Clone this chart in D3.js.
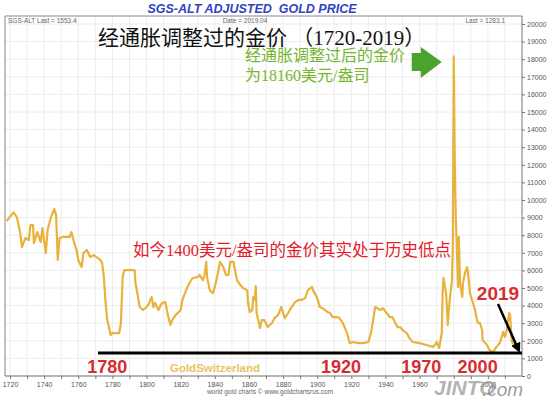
<!DOCTYPE html>
<html>
<head>
<meta charset="utf-8">
<script src="https://cdn.jsdelivr.net/npm/d3@7"></script>
<style>
  body { margin: 0; background: #fff; }
  svg { display: block; }
  text { white-space: pre; }
</style>
</head>
<body>
<div id="chart"></div>
<script>
// Data (inflation adjusted gold price, USD/oz)
const years = [1718,1722,1724,1726,1727,1729,1731,1732,1733.5,1734,1736,1738,1739,1741,1742,1744,1746,1747,1748,1749,
  1751,1755,1756,1757.5,1759,1760,1762,1763,1765,1767,1769,1771.5,1773,1774,1775,1776,1777,1779,1780,1784,
  1785,1786,1787,1793,1793.5,1794,1796,1798,1800,1801,1803,1804,1805,1807,1809,1811,1812.5,1814,1815,1817,
  1820,1821,1824,1825.5,1827,1830,1831,1833,1834,1835,1835.5,1837,1839,1841,1843,1845,1846.5,1848,1849,1851,
  1851.5,1853,1855,1856.5,1859,1859.5,1860.5,1862,1862.5,1863.5,1864,1864.5,1866.5,1867.5,1869,1871,1873.5,1875,1877,1879,
  1881,1883,1885,1887,1889,1891,1893,1894.5,1897,1897.5,1900,1901.5,1903,1906,1907.5,1909,1911.5,1913,1915,1917.5,
  1919,1921,1924,1927,1930,1931.5,1934,1937,1938.5,1942.5,1944,1947,1948.5,1950,1952.5,1954,1956,1960,1964,1968,
  1970,1971.5,1973,1973.5,1974,1975.5,1976,1976.5,1977.8,1979,1979.5,1980,1980.6,1981.2,1981.8,1982.5,1983,1983.7,1985,1985.4,
  1986.6,1987.8,1988.4,1989.5,1990.7,1991.3,1992.5,1993.6,1994.2,1995.4,1996.6,1997,1999.5,2001,2003,2005,2007,2009,2010,2011,
  2012.5,2013,2014,2014.5,2017,2019];
const prices = [8800,9300,9030,8120,7330,7840,7720,8580,8580,7550,8180,7610,8400,6990,8290,9030,9490,9140,6590,7840,
  7900,7900,8180,7610,7160,6590,6190,6990,7160,6760,6870,6700,6590,6420,5620,4150,3180,2330,2440,2440,
  3010,5620,6020,6020,5280,5060,3920,3750,3920,4030,4490,3920,4150,3750,4150,4200,3460,2900,3180,3460,
  3750,4320,5060,5340,5570,5620,5740,5450,5740,6480,5620,4880,4710,5450,6480,6190,5740,5740,6480,6480,
  6190,5450,5170,5000,4880,4150,3640,3750,4490,4320,5110,3580,2730,3180,3180,2780,3010,3290,3460,3920,
  3290,3580,3920,4200,4320,4320,4430,4880,5060,4880,4430,3920,3860,3640,3580,3350,3350,3290,3010,2440,
  1870,1930,1870,1870,1930,2440,3920,3750,3860,3350,3350,2780,2780,2610,2440,2160,1930,1870,1760,1650,
  1930,1590,2440,4710,5570,4710,3920,2900,4490,5450,7720,18160,12270,9030,7330,5060,7900,5280,4490,5280,
  5850,6190,5850,4710,4320,4150,3750,3180,3010,3010,2610,2040,1760,1480,1360,1650,1870,2500,2220,2610,
  3580,3460,2040,1870,1650,1590];

const yTicks = d3.range(0, 20001, 1000);
const xTicks = d3.range(1720, 2011, 10);
const xLabels = [1720,1740,1760,1780,1800,1820,1840,1860,1880,1900,1920,1940,1960,2000];

const eraYears = ["1780", "1920", "1970", "2000"];
const eraYearPos = [1777, 1914, 1961, 1994];
const todayLevel = 1300;

const data = years.map((yr, i) => ({ year: yr, price: prices[i] }));

const svg = d3.select("#chart")
  .append("svg")
  .attr("width", 550)
  .attr("height", 399);

// Scales
const xScale = d3.scaleLinear().domain([1720, 2020]).range([10, 522]);
const yScale = d3.scaleLinear().domain([0, 20000]).range([376, 24]);

const plot = { left: 5, right: 522, top: 16, bottom: 376 };

// grid
svg.append("g")
  .selectAll("line")
  .data(xTicks)
  .join("line")
    .attr("x1", d => xScale(d)).attr("x2", d => xScale(d))
    .attr("y1", plot.top).attr("y2", plot.bottom)
    .attr("stroke", "#ececec");
svg.append("g")
  .selectAll("line")
  .data(yTicks)
  .join("line")
    .attr("x1", plot.left).attr("x2", plot.right)
    .attr("y1", d => yScale(d)).attr("y2", d => yScale(d))
    .attr("stroke", "#ececec");

// frame
svg.append("path")
  .attr("d", `M${plot.left},${plot.bottom}V${plot.top}H${plot.right}`)
  .attr("fill", "none")
  .attr("stroke", "#888");

// axes
const yAxis = svg.append("g")
  .attr("transform", `translate(${plot.right},0)`)
  .call(d3.axisRight(yScale).tickValues(yTicks).tickSize(3).tickPadding(2).tickFormat(d3.format("d")));
yAxis.select(".domain").attr("d", `M0,${plot.top}V${plot.bottom}`).attr("stroke", "#777");

const xAxis = svg.append("g")
  .attr("transform", `translate(0,${plot.bottom})`)
  .call(d3.axisBottom(xScale).tickValues(xTicks).tickSize(3).tickPadding(3)
    .tickFormat(d => xLabels.includes(d) ? d : ""));
xAxis.select(".domain").attr("d", `M${plot.left},0H${plot.right}`).attr("stroke", "#777");

svg.selectAll(".tick line").attr("stroke", "#777");
svg.selectAll(".tick text")
  .attr("font-family", "Liberation Sans, Arial")
  .attr("font-size", 7)
  .attr("fill", "#555");

// gold line
svg.append("clipPath").attr("id", "clip")
  .append("rect")
  .attr("x", plot.left).attr("y", plot.top)
  .attr("width", plot.right - plot.left).attr("height", plot.bottom - plot.top);

const line = d3.line()
  .x(d => xScale(d.year))
  .y(d => yScale(d.price));

svg.append("path")
  .datum(data)
  .attr("clip-path", "url(#clip)")
  .attr("d", line)
  .attr("fill", "none")
  .attr("stroke", "#e9b23c")
  .attr("stroke-width", 2.2)
  .attr("stroke-linejoin", "round");

// header texts
svg.append("text")
  .attr("x", 252).attr("y", 13)
  .attr("text-anchor", "middle")
  .attr("font-family", "Liberation Sans, Arial")
  .attr("font-size", 12.5)
  .attr("font-weight", "bold")
  .attr("font-style", "italic")
  .attr("fill", "#2f43c6")
  .text("SGS-ALT ADJUSTED  GOLD PRICE");

const small = [
  { t: "SGS-ALT Last = 1553.4", x: 8, a: "start" },
  { t: "Date = 2019.04", x: 245, a: "middle" },
  { t: "Last = 1283.1", x: 505, a: "end" }
];
svg.selectAll("text.small")
  .data(small)
  .join("text")
    .attr("class", "small")
    .attr("x", d => d.x).attr("y", 23)
    .attr("text-anchor", d => d.a)
    .attr("font-family", "Liberation Sans, Arial")
    .attr("font-size", 6.5)
    .attr("fill", "#666")
    .text(d => d.t);

// big title
svg.append("text")
  .attr("x", 98).attr("y", 45)
  .attr("font-family", "Liberation Serif, Noto Sans CJK SC")
  .attr("font-size", 21)
  .attr("fill", "#111")
  .text("经通胀调整过的金价 （1720-2019）");

// green note + arrow
const green = svg.append("text")
  .attr("font-family", "Liberation Serif, Noto Sans CJK SC")
  .attr("font-size", 16)
  .attr("fill", "#77b52f");
green.append("tspan").attr("x", 245).attr("y", 61).text("经通胀调整过后的金价");
green.append("tspan").attr("x", 245).attr("y", 81).text("为18160美元/盎司");

const peakX = xScale(1980);
svg.append("path")
  .attr("d", `M${peakX - 42},53H${peakX - 33}V47L${peakX - 12},62L${peakX - 33},78V71H${peakX - 42}Z`)
  .attr("fill", "#4ca22e");

// red note
svg.append("text")
  .attr("x", 133).attr("y", 256)
  .attr("font-family", "Liberation Serif, Noto Sans CJK SC")
  .attr("font-size", 16.5)
  .attr("fill", "#e3202a")
  .text("如今1400美元/盎司的金价其实处于历史低点");

// today's level line
svg.append("line")
  .attr("x1", 98).attr("x2", plot.right)
  .attr("y1", yScale(todayLevel)).attr("y2", yScale(todayLevel))
  .attr("stroke", "#000")
  .attr("stroke-width", 3);

// era labels
svg.selectAll("text.era")
  .data(eraYears)
  .join("text")
    .attr("class", "era")
    .attr("x", (d, i) => xScale(eraYearPos[i]))
    .attr("y", 373)
    .attr("text-anchor", "middle")
    .attr("font-family", "Liberation Sans, Arial")
    .attr("font-size", 18)
    .attr("font-weight", "bold")
    .attr("fill", "#d62d32")
    .text(d => d);

svg.append("text")
  .attr("x", 215).attr("y", 372)
  .attr("text-anchor", "middle")
  .attr("font-family", "Liberation Sans, Arial")
  .attr("font-size", 11.5)
  .attr("font-weight", "bold")
  .attr("fill", "#e8c35e")
  .text("GoldSwitzerland");

// 2019 label with arrow
svg.append("text")
  .attr("x", 498).attr("y", 300)
  .attr("text-anchor", "middle")
  .attr("font-family", "Liberation Sans, Arial")
  .attr("font-size", 19)
  .attr("font-weight", "bold")
  .attr("fill", "#d62d32")
  .text("2019");

svg.append("defs").append("marker")
  .attr("id", "arrow")
  .attr("viewBox", "0 0 10 10")
  .attr("refX", 8).attr("refY", 5)
  .attr("markerWidth", 4).attr("markerHeight", 4)
  .attr("orient", "auto")
  .append("path")
  .attr("d", "M0,0L10,5L0,10Z")
  .attr("fill", "#000");

svg.append("line")
  .attr("x1", 498).attr("y1", 304)
  .attr("x2", 519).attr("y2", 351)
  .attr("stroke", "#000")
  .attr("stroke-width", 2.5)
  .attr("marker-end", "url(#arrow)");

// footer
svg.append("text")
  .attr("x", 270).attr("y", 394)
  .attr("text-anchor", "middle")
  .attr("font-family", "Liberation Sans, Arial")
  .attr("font-size", 6.5)
  .attr("fill", "#666")
  .text("world gold charts © www.goldchartsrus.com");

// watermark
svg.append("text")
  .attr("x", 434).attr("y", 395)
  .attr("font-family", "Liberation Sans, Arial")
  .attr("font-size", 21)
  .attr("font-weight", "bold")
  .attr("font-style", "italic")
  .attr("fill", "#9a9a9a")
  .attr("fill-opacity", 0.75)
  .text("JINTO");
svg.append("text")
  .attr("x", 482).attr("y", 396)
  .attr("font-family", "Liberation Sans, Arial")
  .attr("font-size", 19)
  .attr("font-style", "italic")
  .attr("fill", "#8a8a8a")
  .attr("fill-opacity", 0.85)
  .text(".com");
</script>
</body>
</html>
